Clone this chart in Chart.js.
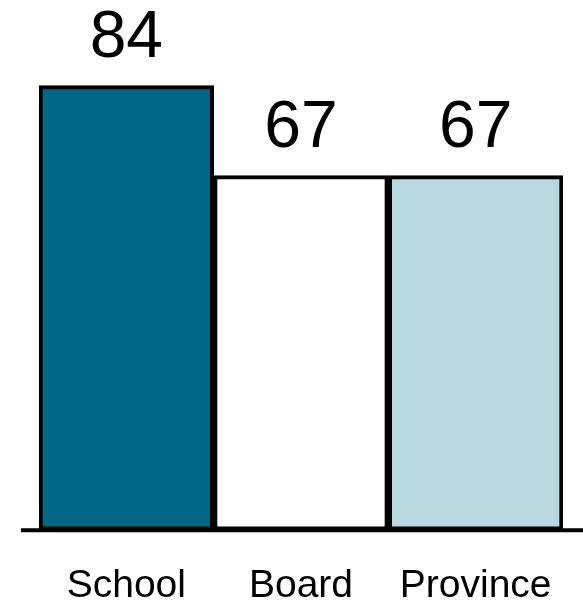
<!DOCTYPE html>
<html lang="en">
<head>
<meta charset="UTF-8">
<title>School Board Province</title>
<script src="https://cdn.jsdelivr.net/npm/chart.js"></script>
<style>
    body { margin: 0; padding: 0; background: #ffffff; }
    .wrap { position: relative; width: 583px; height: 605px; }
</style>
</head>
<body>
<div class="wrap">
    <canvas id="barCanvas"></canvas>
</div>
<script>
    const categories = ["School", "Board", "Province"];
    const scores = [84, 67, 67];
    const barColors = ["#026786", "#ffffff", "#b9d7e1"];

    const fontName = "'Liberation Sans', Arial, sans-serif";

    // value labels above each bar + the long baseline
    const extras = {
        id: "extras",
        afterDatasetsDraw(chart) {
            const ctx = chart.ctx;
            const meta = chart.getDatasetMeta(0);
            ctx.save();
            ctx.fillStyle = "#000";
            ctx.font = "66px " + fontName;
            ctx.textAlign = "center";
            ctx.textBaseline = "alphabetic";
            meta.data.forEach((bar, i) => {
                ctx.fillText(scores[i], bar.x, bar.y - 29);
            });
            const y0 = chart.scales.y.getPixelForValue(0);
            ctx.strokeStyle = "#000";
            ctx.lineWidth = 4;
            ctx.beginPath();
            ctx.moveTo(chart.chartArea.left - 18, y0);
            ctx.lineTo(chart.width, y0);
            ctx.stroke();
            ctx.restore();
        }
    };

    new Chart(document.getElementById("barCanvas"), {
        type: "bar",
        data: {
            labels: categories,
            datasets: [{
                data: scores,
                backgroundColor: barColors,
                borderColor: "#000000",
                borderWidth: 4,
                borderSkipped: false,
                barPercentage: 1,
                categoryPercentage: 1
            }]
        },
        options: {
            responsive: true,
            maintainAspectRatio: false,
            animation: false,
            layout: { padding: { left: 39, right: 20, top: 1, bottom: -38 } },
            plugins: {
                legend: { display: false },
                tooltip: { enabled: false }
            },
            scales: {
                x: {
                    grid: { display: false, drawTicks: false },
                    border: { display: false },
                    afterFit(scale) {
                        // don't let the wide last label squeeze the bars
                        scale.paddingLeft = 0;
                        scale.paddingRight = 0;
                    },
                    ticks: {
                        color: "#000",
                        padding: 33,
                        font: { family: fontName, size: 39 }
                    }
                },
                y: {
                    display: false,
                    min: 0,
                    max: 100
                }
            }
        },
        plugins: [extras]
    });
</script>
</body>
</html>
